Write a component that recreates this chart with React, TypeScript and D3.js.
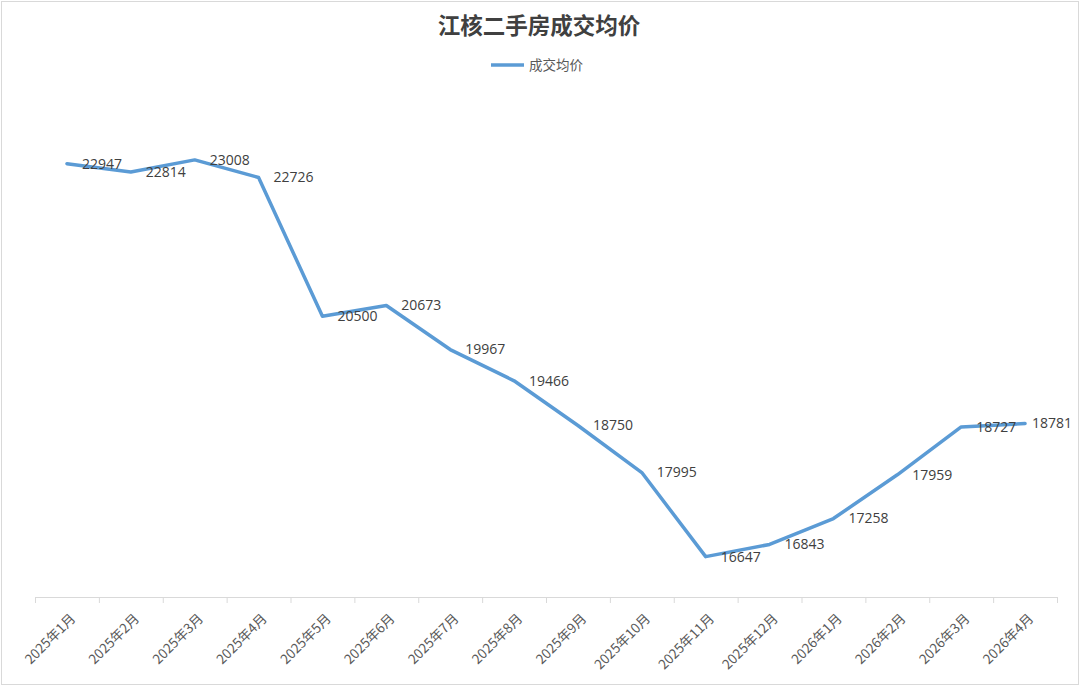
import React from "react";
import * as d3 from "d3";

const months = ["2025年1月","2025年2月","2025年3月","2025年4月","2025年5月","2025年6月","2025年7月","2025年8月","2025年9月","2025年10月","2025年11月","2025年12月","2026年1月","2026年2月","2026年3月","2026年4月"];
const prices = [22947,22814,23008,22726,20500,20673,19967,19466,18750,17995,16647,16843,17258,17959,18727,18781];
const title = "江核二手房成交均价";
const seriesName = "成交均价";

const W = 1080, H = 686;
const left = 35, right = 1057, axisY = 597, topY = 98;

export default function App() {
  const x = d3.scaleBand<string>().domain(months).range([left, right]);
  const y = d3.scaleLinear().domain([16000, 24000]).range([axisY, topY]);
  const line = d3.line<number>().x((_, i) => x(months[i])! + x.bandwidth() / 2).y(d => y(d));
  const ticks = d3.range(months.length + 1).map(i => left + i * x.bandwidth());
  const cjk = "'Noto Sans CJK SC', 'Open Sans', sans-serif";
  return (
    <div style={{ position: "absolute", left: 0, top: 0 }}>
      <svg width={W} height={H} style={{ display: "block" }}>
        <rect x={0} y={0} width={W} height={H} fill="#fff" />
        <rect x={1.5} y={1.5} width={W - 3} height={H - 3} fill="none" stroke="#d9d9d9" strokeWidth={1} />
        <text x={539} y={34} textAnchor="middle" fontFamily={cjk} fontWeight="bold" fontSize={22.5} fill="#404040">{title}</text>
        <line x1={491} x2={524} y1={65} y2={65} stroke="#5B9BD5" strokeWidth={3.5} />
        <text x={529} y={70} fontFamily={cjk} fontSize={13.5} fill="#595959">{seriesName}</text>
        <line x1={left} x2={right} y1={axisY + 0.5} y2={axisY + 0.5} stroke="#d9d9d9" />
        {ticks.map((t, i) => (
          <line key={i} x1={t + 0.5} x2={t + 0.5} y1={axisY} y2={axisY + 6} stroke="#d9d9d9" />
        ))}
        {months.map((m, i) => {
          const cx = x(m)! + x.bandwidth() / 2;
          return (
            <text key={m} transform={`translate(${cx + 6},${axisY + 19}) rotate(-45)`} textAnchor="end" dy="0.35em"
              fontFamily={cjk} fontSize={13.5} fill="#595959">{m}</text>
          );
        })}
        <path d={line(prices)!} fill="none" stroke="#5B9BD5" strokeWidth={3.5} strokeLinejoin="round" strokeLinecap="round" />
        {prices.map((v, i) => {
          const cx = x(months[i])! + x.bandwidth() / 2;
          const lx = Math.min(cx + 15, W - 48);
          return (
            <text key={i} x={lx} y={y(v)} dy="0.35em" fontFamily="'Open Sans', sans-serif" fontSize={14} fill="#404040">{v}</text>
          );
        })}
      </svg>
    </div>
  );
}
